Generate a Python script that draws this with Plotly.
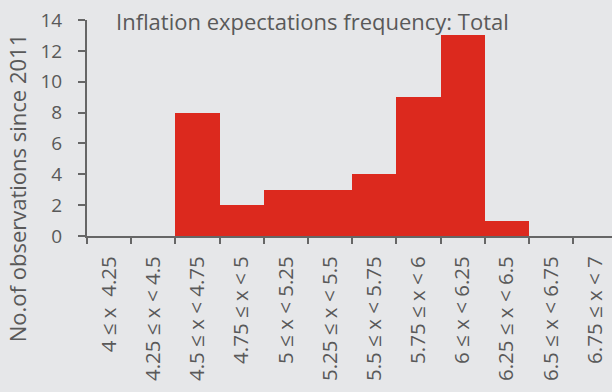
import plotly.graph_objects as go

# Histogram of inflation expectation observations by bucket
buckets = [
    "4 ≤ x \u00a04.25",
    "4.25 ≤ x < 4.5",
    "4.5 ≤ x < 4.75",
    "4.75 ≤ x < 5",
    "5 ≤ x < 5.25",
    "5.25 ≤ x < 5.5",
    "5.5 ≤ x < 5.75",
    "5.75 ≤ x < 6",
    "6 ≤ x < 6.25",
    "6.25 ≤ x < 6.5",
    "6.5 ≤ x < 6.75",
    "6.75 ≤ x < 7",
]
counts = [0, 0, 8, 2, 3, 3, 4, 9, 13, 1, 0, 0]
y_ticks = [0, 2, 4, 6, 8, 10, 12, 14]

BG = "#E6E7E9"
RED = "#DC291E"
TEXT = "#595959"
AXIS = "#666666"
FONT = "Open Sans"

fig = go.Figure(
    go.Bar(
        x=list(range(len(buckets))),
        y=counts,
        marker=dict(color=RED, line=dict(width=0)),
        hoverinfo="skip",
    )
)

fig.update_layout(
    width=612,
    height=392,
    margin=dict(l=87, r=0, t=20, b=156),
    paper_bgcolor=BG,
    plot_bgcolor=BG,
    bargap=0,
    showlegend=False,
    font=dict(family=FONT, color=TEXT, size=18),
    annotations=[
        dict(
            text="Inflation expectations frequency: Total",
            xref="paper", yref="paper",
            x=0.43, y=0.995,
            xanchor="center", yanchor="middle",
            showarrow=False,
            font=dict(family=FONT, size=22, color=TEXT),
        ),
        dict(
            text="No.of observations since 2011",
            xref="paper", yref="paper",
            x=-0.133, y=0.222,
            xanchor="center", yanchor="middle",
            textangle=-90,
            showarrow=False,
            font=dict(family=FONT, size=22, color=TEXT),
        ),
    ],
)

fig.update_xaxes(
    range=[-0.5, 11.38],
    tickmode="array",
    tickvals=list(range(len(buckets))),
    ticktext=buckets,
    tickangle=-90,
    showgrid=False,
    zeroline=False,
    showline=True,
    linecolor=AXIS,
    linewidth=2,
    ticks="",
    ticklabelstandoff=10,
    tickfont=dict(family=FONT, size=20.5, color=TEXT),
    fixedrange=True,
)

# Boundary tick marks between buckets, drawn on a secondary overlay axis
fig.update_layout(
    xaxis2=dict(
        overlaying="x",
        side="bottom",
        range=[-0.5, 11.38],
        tickmode="array",
        tickvals=[i - 0.5 for i in range(len(buckets) + 1)],
        ticktext=[""] * (len(buckets) + 1),
        ticks="outside",
        ticklen=7,
        tickwidth=2,
        tickcolor=AXIS,
        showgrid=False,
        zeroline=False,
        showline=False,
        anchor="y",
        fixedrange=True,
    )
)
fig.add_trace(go.Scatter(x=[None], y=[None], xaxis="x2", showlegend=False, hoverinfo="skip"))

fig.update_yaxes(
    range=[0, 14],
    tickmode="array",
    tickvals=y_ticks,
    showgrid=False,
    zeroline=False,
    showline=True,
    linecolor=AXIS,
    linewidth=2,
    ticks="outside",
    ticklen=7,
    tickwidth=2,
    tickcolor=AXIS,
    ticklabelstandoff=12,
    tickfont=dict(family=FONT, size=19, color=TEXT),
    fixedrange=True,
)

fig.write_html("out.html", config={"displayModeBar": False})
